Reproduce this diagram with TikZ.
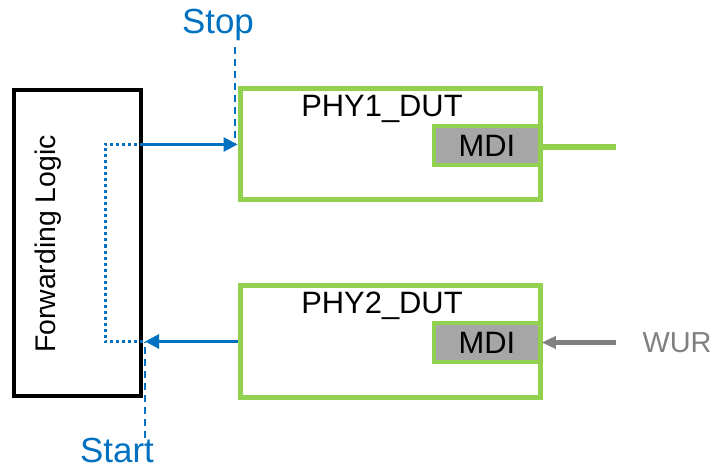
\documentclass[tikz,border=0pt]{standalone}
\usepackage{fontspec}
\setmainfont{Liberation Sans}
\usepackage{xcolor}
\definecolor{phyblue}{HTML}{0070C0}
\definecolor{phygreen}{HTML}{92D050}
\definecolor{mdigray}{HTML}{A6A6A6}
\definecolor{wurgray}{HTML}{808080}
\usepackage{tikz}
\usetikzlibrary{positioning,arrows.meta,calc}
\tikzset{
  flbox/.style ={rectangle, draw=black, line width=4bp, fill=white,
                 minimum width=127bp, minimum height=306bp, inner sep=0pt},
  phybox/.style={rectangle, draw=phygreen, line width=5bp, fill=white,
                 minimum width=300bp, minimum height=111bp, inner sep=0pt},
  mdibox/.style={rectangle, draw=phygreen, line width=3.5bp, fill=mdigray,
                 minimum width=106bp, minimum height=39bp, inner sep=0pt,
                 font=\fontsize{31}{36}\selectfont},
  txt/.style   ={inner sep=0pt, font=\fontsize{31}{36}\selectfont},
  btxt/.style  ={inner sep=0pt, text=phyblue, font=\fontsize{35}{40}\selectfont},
  arr/.style   ={-{Triangle[length=14bp, width=14bp]}, line width=3bp, draw=phyblue},
  darr/.style  ={dashed, dash pattern=on 7bp off 5bp, line width=2bp, draw=phyblue},
  dotl/.style  ={dash pattern=on 3bp off 3bp, line width=3bp, draw=phyblue},
}

\begin{document}
\begin{tikzpicture}[x=1bp, y=-1bp]
  \useasboundingbox (0,0) rectangle (715,468);
  % forwarding logic block
  \node[flbox] (fl) at (77.5,243) {};
  \node[txt, rotate=90, font=\fontsize{28.5}{33}\selectfont] (fltxt) at (48,244) {Forwarding Logic};
  % the two PHYs
  \node[phybox] (phy1) at (390,144.5) {};
  \node[phybox] (phy2) at (390,341.5) {};
  \node[txt] (phy1txt) at (382,109) {PHY1\_DUT};
  \node[txt] (phy2txt) at (382,306) {PHY2\_DUT};
  \node[mdibox] (mdi1) at (487,145.5) {MDI};
  \node[mdibox] (mdi2) at (487,342.5) {MDI};
  % links and WUR
  \coordinate (link) at (616,147);
  \draw[phygreen, line width=6bp] (mdi1.east |- link) -- (link);
  \node[txt, text=wurgray, font=\fontsize{29}{34}\selectfont] (wur) at (677,343) {WUR};
  \coordinate (wurin) at (616,342.5);
  \draw[-{Triangle[length=14bp, width=12bp]}, line width=5bp, draw=wurgray] (wurin) -- (mdi2.east);
  % forwarding path
  \coordinate (fw1) at (fl.east |- phy1.west);
  \coordinate (fw2) at (fl.east |- phy2.west);
  \draw[dotl] (fw1) -- ++(-38,0) |- (fw2);
  \draw[arr] (fw1) -- (phy1.west);
  \draw[arr] (phy2.west) -- ([xshift=2bp]fw2);
  % stop / start markers
  \node[btxt] (stop) at (218,25) {Stop};
  \node[btxt] (start) at (117,450) {Start};
  \coordinate (stoptop) at (235,47);
  \coordinate (startbot) at (145,438);
  \draw[darr] (stoptop) -- (stoptop |- phy1.west);
  \draw[darr] (startbot) -- (startbot |- phy2.west);
\end{tikzpicture}
\end{document}
